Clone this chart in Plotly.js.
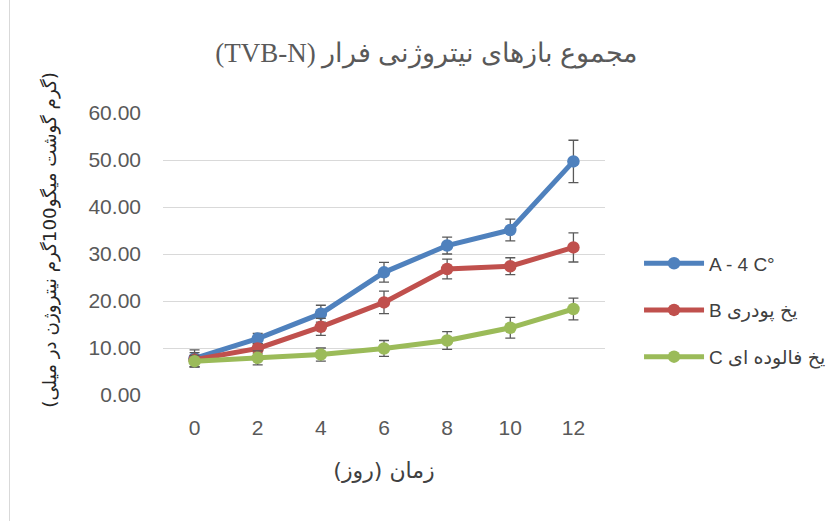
<!DOCTYPE html>
<html>
<head>
<meta charset="utf-8">
<script src="https://cdn.plot.ly/plotly-3.0.1.min.js"></script>
<style>
  html, body { margin: 0; padding: 0; background: #ffffff; }
  #chart { width: 827px; height: 521px; position: relative; }
  #frame { position: absolute; left: 9px; top: 0; width: 1px; height: 521px; background: #d9d9d9; }
</style>
</head>
<body>
<div id="chart"></div>
<div id="frame"></div>
<script>
// Days (category labels)
const days = ["0", "2", "4", "6", "8", "10", "12"];

// Series values (TVB-N)
const seriesA = [7.8, 12.0, 17.3, 26.1, 31.8, 35.1, 49.7];
const seriesB = [7.5, 9.9, 14.5, 19.7, 26.8, 27.4, 31.4];
const seriesC = [7.2, 7.9, 8.6, 9.9, 11.6, 14.3, 18.3];

// Error bar sizes (±)
const errA = [1.8, 1.1, 1.8, 2.1, 1.8, 2.3, 4.5];
const errB = [1.5, 1.0, 1.8, 2.4, 2.1, 1.8, 3.1];
const errC = [1.2, 1.5, 1.4, 1.7, 1.9, 2.2, 2.3];

// Series names
const names = ["A - 4 C°", "B یخ پودری", "C یخ فالوده ای"];
const colors = ["#4F81BD", "#C0504D", "#9BBB59"];

const yTicks = [0, 10, 20, 30, 40, 50, 60];
const yTickText = yTicks.map(v => v.toFixed(2));

const titleText = "\u202Bمجموع بازهای نیتروژنی فرار (TVB-N)\u202C";
const xTitle = "\u202Bزمان (روز)\u202C";
const yTitle = "\u202B(گرم گوشت میگو100گرم نیتروژن در میلی)\u202C";

const allVals = [seriesA, seriesB, seriesC];
const allErr = [errA, errB, errC];

const traces = allVals.map((vals, i) => ({
  type: "scatter",
  mode: "lines+markers",
  x: days,
  y: vals,
  name: names[i],
  legendgroup: "g" + i,
  line: { color: colors[i], width: 5 },
  marker: { color: colors[i], size: 12.5 },
  error_y: {
    type: "data",
    array: allErr[i],
    visible: true,
    color: "#595959",
    thickness: 1.3,
    width: 5
  }
}));

const layout = {
  width: 827,
  height: 521,
  paper_bgcolor: "#ffffff",
  plot_bgcolor: "#ffffff",
  margin: { l: 163, r: 222, t: 113, b: 125.5, autoexpand: false },
  font: { family: "'Liberation Sans', 'DejaVu Sans', sans-serif", color: "#595959" },
  title: {
    text: titleText,
    font: { family: "'Liberation Serif', 'DejaVu Serif', serif", size: 27, color: "#595959" },
    x: 0.515,
    xanchor: "center",
    y: 0.9,
    yanchor: "middle"
  },
  xaxis: {
    type: "category",
    range: [-0.5, 6.5],
    showgrid: false,
    zeroline: false,
    showline: false,
    ticks: "",
    automargin: false,
    tickfont: { size: 21, color: "#595959" },
    ticklabelstandoff: 18,
    title: {
      text: xTitle,
      font: { size: 22, color: "#404040", family: "'DejaVu Sans', sans-serif" },
      standoff: 24
    }
  },
  yaxis: {
    range: [0, 60],
    tickvals: yTicks,
    ticktext: yTickText,
    showgrid: true,
    gridcolor: "#d9d9d9",
    gridwidth: 1,
    zeroline: false,
    showline: false,
    ticks: "",
    automargin: false,
    tickfont: { size: 21, color: "#595959" },
    ticklabelstandoff: 21
  },
  annotations: [{
    text: yTitle,
    xref: "paper",
    yref: "paper",
    x: -0.256,
    y: 0.55,
    xanchor: "center",
    yanchor: "middle",
    textangle: -90,
    showarrow: false,
    font: { size: 18.3, color: "#262626", family: "'DejaVu Sans', sans-serif" }
  }],
  showlegend: true,
  legend: {
    x: 1.077,
    xanchor: "left",
    y: 0.30,
    yanchor: "middle",
    font: { size: 19, color: "#404040" },
    itemwidth: 60,
    tracegroupgap: 19,
    bgcolor: "rgba(0,0,0,0)"
  }
};

Plotly.newPlot("chart", traces, layout, { displayModeBar: false, staticPlot: true });
</script>
</body>
</html>
